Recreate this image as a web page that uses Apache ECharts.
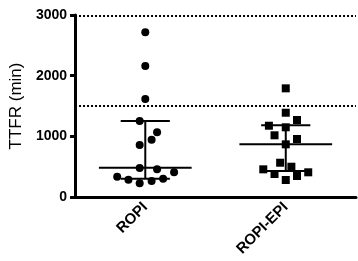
<!DOCTYPE html>
<html><head><meta charset="utf-8">
<script src="https://cdn.jsdelivr.net/npm/echarts@6/dist/echarts.min.js"></script>
<style>html,body{margin:0;padding:0;background:#fff}#c{width:358px;height:261px}</style>
</head><body><div id="c"></div>
<script>
const categories = ['ROPI', 'ROPI-EPI'];
const ropiValues = [2714, 2159, 1615, 1252, 1066, 944, 857, 478, 456, 407, 335, 285, 226, 264, 302];
const ropiJitter = [0, 0, 0, -0.04, 0.084, 0.045, -0.04, -0.04, 0.084, 0.205, -0.2, -0.12, -0.04, 0.045, 0.127];
const ropiEpiValues = [1791, 1389, 1269, 1175, 1149, 1017, 956, 868, 565, 499, 456, 379, 407, 346, 280];
const ropiEpiJitter = [0, 0, 0.08, -0.12, 0, -0.08, 0.08, 0, -0.04, 0.04, -0.16, -0.08, 0.16, 0.08, 0];
const medians = [483, 868];
const lowerBars = [302, 428];
const upperBars = [1252, 1181];
const refLines = [2980, 1500];
const yMin = 0, yMax = 3000, yInterval = 1000;
const yName = 'TTFR (min)';

const font = 'Liberation Sans, Arial, Helvetica, sans-serif';
const chart = echarts.init(document.getElementById('c'));
const ropiData = ropiValues.map((v, i) => [0 + ropiJitter[i], v]);
const epiData = ropiEpiValues.map((v, i) => [1 + ropiEpiJitter[i], v]);
const barData = categories.map((c, i) => [i, medians[i], lowerBars[i], upperBars[i]]);

chart.setOption({
  animation: false,
  grid: { left: 68, right: 2, top: 15, bottom: 64 },
  xAxis: [
    { type: 'category', data: categories, boundaryGap: true,
      axisLine: { onZero: false, lineStyle: { color: '#000', width: 3 } },
      axisTick: { alignWithLabel: true, length: 6, lineStyle: { color: '#000', width: 3 } },
      axisLabel: { rotate: 45, color: '#000', fontWeight: 'bold', fontSize: 15, fontFamily: font, margin: 8 },
      splitLine: { show: false } },
    { type: 'value', min: -0.5, max: 1.5, show: false,
      axisLine: { show: false, onZero: false }, axisTick: { show: false },
      axisLabel: { show: false }, splitLine: { show: false } }
  ],
  yAxis: {
    type: 'value', min: yMin, max: yMax, interval: yInterval,
    name: yName, nameLocation: 'middle', nameGap: 50, nameRotate: 90,
    nameTextStyle: { color: '#000', fontSize: 17, fontFamily: font },
    axisLine: { show: true, onZero: false, lineStyle: { color: '#000', width: 3 } },
    axisTick: { show: true, length: 5, lineStyle: { color: '#000', width: 3 } },
    axisLabel: { color: '#000', fontWeight: 'bold', fontSize: 14, fontFamily: font, margin: 8,
      formatter: v => String(v) },
    splitLine: { show: false }
  },
  series: [
    { type: 'custom', xAxisIndex: 1, data: barData, z: 3,
      renderItem: function (params, api) {
        const i = api.value(0);
        const pm = api.coord([i, api.value(1)]);
        const pl = api.coord([i, api.value(2)]);
        const ph = api.coord([i, api.value(3)]);
        const mw = api.size([0.33, 0])[0];
        const cw = api.size([0.175, 0])[0];
        const st = { stroke: '#000', lineWidth: 2 };
        return { type: 'group', children: [
          { type: 'line', shape: { x1: pm[0] - mw, y1: pm[1], x2: pm[0] + mw, y2: pm[1] }, style: st },
          { type: 'line', shape: { x1: ph[0] - cw, y1: ph[1], x2: ph[0] + cw, y2: ph[1] }, style: st },
          { type: 'line', shape: { x1: pl[0] - cw, y1: pl[1], x2: pl[0] + cw, y2: pl[1] }, style: st },
          { type: 'line', shape: { x1: pl[0], y1: pl[1], x2: ph[0], y2: ph[1] }, style: st }
        ]};
      },
      encode: { x: 0, y: [1, 2, 3] }
    },
    { type: 'scatter', xAxisIndex: 1, data: ropiData, symbol: 'circle', symbolSize: 8,
      itemStyle: { color: '#000', opacity: 1 }, z: 4,
      markLine: { silent: true, symbol: 'none', label: { show: false },
        lineStyle: { color: '#000', type: [2, 2], width: 2, opacity: 1 },
        data: refLines.map(v => ({ yAxis: v })) } },
    { type: 'scatter', xAxisIndex: 1, data: epiData, symbol: 'rect', symbolSize: 8,
      itemStyle: { color: '#000', opacity: 1 }, z: 4 }
  ]
});
</script></body></html>
